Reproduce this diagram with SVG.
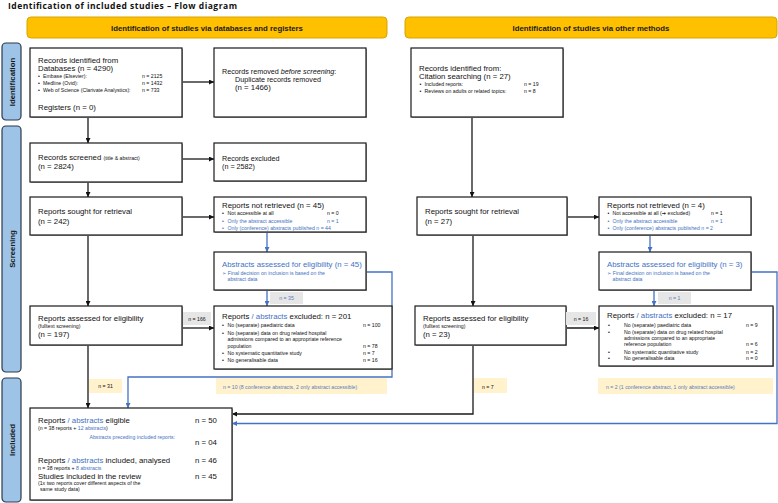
<svg xmlns="http://www.w3.org/2000/svg" width="778" height="503" viewBox="0 0 778 503">
<defs>
<marker id="ak" viewBox="0 0 10 10" refX="10" refY="5" markerWidth="5" markerHeight="5" markerUnits="userSpaceOnUse" orient="auto"><path d="M0,0 L10,5 L0,10 z" fill="#111"/></marker>
<marker id="ab" viewBox="0 0 10 10" refX="10" refY="5" markerWidth="5" markerHeight="5" markerUnits="userSpaceOnUse" orient="auto"><path d="M0,0 L10,5 L0,10 z" fill="#4472C4"/></marker>
</defs>
<style>
.box{fill:#fff;stroke:#1a1a1a;stroke-width:1.2}
.sh{fill:#a0a0a0}
.t{font-family:'Liberation Sans',Arial,'DejaVu Sans',sans-serif;font-size:7.8px;fill:#111}
.s{font-size:5.2px}
.m{font-size:7.2px}
.bl{fill:#4472C4}
.lbl{fill:#5B7DBF}
.ln{fill:none;stroke:#1a1a1a;stroke-width:1.3}
.lb{fill:none;stroke:#4472C4;stroke-width:1.3}
.hdr{fill:#FFC000;stroke:#D9A400;stroke-width:1}
.side{fill:#9DC3E6;stroke:#2b3a4e;stroke-width:1.2}
.ht{font-family:'Liberation Sans',Arial,sans-serif;font-weight:bold;font-size:7.8px;fill:#1a1a1a}
.gl{fill:#E7E6E6}
.yl{fill:#FFF2CC}
</style>

<text x="8" y="8.5" font-family="'Open Sans','Liberation Sans',sans-serif" font-weight="bold" font-size="8.5px" fill="#111" textLength="229">Identification of included studies – Flow diagram</text>

<g id="header-left"><rect class="hdr" x="27" y="17" width="360" height="21" rx="4"/><text class="ht" x="207" y="30.5" text-anchor="middle">Identification of studies via databases and registers</text></g>
<g id="header-right"><rect class="hdr" x="405" y="17" width="372" height="21" rx="4"/><text class="ht" x="591" y="30.5" text-anchor="middle">Identification of studies via other methods</text></g>

<g id="side-identification"><rect class="side" x="2" y="43" width="19" height="77" rx="4"/><text class="ht" transform="translate(14.5,82) rotate(-90)" text-anchor="middle" font-size="8px">Identification</text></g>
<g id="side-screening"><rect class="side" x="2" y="126" width="19" height="246" rx="4"/><text class="ht" transform="translate(14.5,249) rotate(-90)" text-anchor="middle" font-size="8px">Screening</text></g>
<g id="side-included"><rect class="side" x="2" y="378" width="19" height="124" rx="4"/><text class="ht" transform="translate(14.5,440) rotate(-90)" text-anchor="middle" font-size="8px">Included</text></g>

<g id="connectors">
<path class="ln" d="M88,117 V143" marker-end="url(#ak)"/>
<path class="ln" d="M182,82 H214" marker-end="url(#ak)"/>
<path class="ln" d="M182,159 H214" marker-end="url(#ak)"/>
<path class="ln" d="M88,182 V197" marker-end="url(#ak)"/>
<path class="ln" d="M182,217 H214" marker-end="url(#ak)"/>
<path class="ln" d="M88,235 V306" marker-end="url(#ak)"/>
<path class="ln" d="M182,328 H214" marker-end="url(#ak)"/>
<path class="ln" d="M88,345 V408" marker-end="url(#ak)"/>
<path class="ln" d="M472,117 V197" marker-end="url(#ak)"/>
<path class="ln" d="M567,217 H599" marker-end="url(#ak)"/>
<path class="ln" d="M473,235 V306" marker-end="url(#ak)"/>
<path class="ln" d="M566,328 H599" marker-end="url(#ak)"/>
<path class="ln" d="M473,345 V414 H232" marker-end="url(#ak)"/>
<path class="ln" d="M88,431 V454" marker-end="url(#ak)"/>
<path class="ln" d="M88,441.5 H192" marker-end="url(#ak)"/>
<path class="lb" d="M267,232 V252" marker-end="url(#ab)"/>
<path class="lb" d="M267,290 V306" marker-end="url(#ab)"/>
<path class="lb" d="M366,272 H392 V377 H128 V408" marker-end="url(#ab)"/>
<path class="lb" d="M650,235 V252" marker-end="url(#ab)"/>
<path class="lb" d="M654,290 V306" marker-end="url(#ab)"/>
<path class="lb" d="M751,272 H777 V423.5 H232" marker-end="url(#ab)"/>
</g>

<g id="records-identified">
<rect class="sh" x="31" y="49" width="152" height="69"/><rect class="box" x="30" y="48" width="152" height="69"/>
<text class="t" x="38" y="62.5">Records identified from</text>
<text class="t" x="38" y="71">Databases (n = 4290)</text>
<text class="t s" x="38" y="77.7">•</text><text class="t s" x="43" y="77.7">Embase (Elsevier):</text><text class="t s" x="142" y="77.7">n = 2125</text>
<text class="t s" x="38" y="84.7">•</text><text class="t s" x="43" y="84.7">Medline (Ovid):</text><text class="t s" x="142" y="84.7">n = 1432</text>
<text class="t s" x="38" y="91.7">•</text><text class="t s" x="43" y="91.7">Web of Science (Clarivate Analystics):</text><text class="t s" x="142" y="91.7">n = 733</text>
<text class="t" x="38" y="110">Registers (n = 0)</text>
</g>

<g id="records-removed">
<rect class="sh" x="215" y="49" width="152" height="69"/><rect class="box" x="214" y="48" width="152" height="69"/>
<text class="t m" x="222" y="73.5">Records removed <tspan font-style="italic">before screening</tspan>:</text>
<text class="t m" x="235" y="81.5">Duplicate records removed</text>
<text class="t" x="235" y="90" font-size="6.6px">(n = 1466)</text>
</g>

<g id="records-screened">
<rect class="sh" x="31" y="144" width="152" height="39"/><rect class="box" x="30" y="143" width="152" height="39"/>
<text class="t" x="38" y="159.5">Records screened <tspan font-size="5.2px">(title &amp; abstract)</tspan></text>
<text class="t" x="38" y="168.5">(n = 2824)</text>
</g>

<g id="records-excluded">
<rect class="sh" x="215" y="144" width="152" height="38"/><rect class="box" x="214" y="143" width="152" height="38"/>
<text class="t m" x="222" y="160.5">Records excluded</text>
<text class="t m" x="222" y="168.5">(n = 2582)</text>
</g>

<g id="reports-sought">
<rect class="sh" x="31" y="198" width="152" height="38"/><rect class="box" x="30" y="197" width="152" height="38"/>
<text class="t" x="38" y="214">Reports sought for retrieval</text>
<text class="t" x="38" y="224">(n = 242)</text>
</g>

<g id="reports-not-retrieved">
<rect class="sh" x="215" y="198" width="152" height="35"/><rect class="box" x="214" y="197" width="152" height="35"/>
<text class="t" x="222" y="207.8">Reports not retrieved (n = 45)</text>
<text class="t s" x="222" y="214.5">•</text><text class="t s" x="227.5" y="214.5">Not accessible at all</text><text class="t s" x="327" y="214.5">n = 0</text>
<text class="t s bl" x="222" y="222.5">•</text><text class="t s bl" x="227.5" y="222.5">Only the abstract accessible</text><text class="t s bl" x="327" y="222.5">n = 1</text>
<text class="t s bl" x="222" y="230">•</text><text class="t s bl" x="227.5" y="230">Only (conference) abstracts published n = 44</text>
</g>

<g id="abstracts-assessed">
<rect class="sh" x="215" y="253" width="152" height="38"/><rect class="box" x="214" y="252" width="152" height="38"/>
<text class="t bl" x="222" y="267">Abstracts assessed for eligibility (n = 45)</text>
<text class="t s bl" x="222" y="274.5">➢ Final decision on inclusion is based on the</text>
<text class="t s bl" x="227.5" y="281">abstract data</text>
</g>

<g id="label-n35"><rect class="gl" x="270" y="292" width="33" height="12"/><text class="t s lbl" x="286.5" y="299.8" text-anchor="middle">n = 35</text></g>

<g id="reports-assessed">
<rect class="sh" x="31" y="307" width="152" height="39"/><rect class="box" x="30" y="306" width="152" height="39"/>
<text class="t" x="38" y="321">Reports assessed for eligibility</text>
<text class="t s" x="38" y="327.5">(fulltext screening)</text>
<text class="t" x="38" y="337">(n = 197)</text>
</g>

<g id="label-n166"><rect class="gl" x="183" y="312" width="28" height="13"/><text class="t s" x="197" y="320.5" text-anchor="middle" fill="#333">n = 166</text></g>

<g id="reports-excluded">
<rect class="sh" x="215" y="307" width="178" height="63"/><rect class="box" x="214" y="306" width="178" height="63"/>
<text class="t" x="222" y="318.5">Reports <tspan class="bl">/ abstracts</tspan> excluded: n = 201</text>
<text class="t s" x="222" y="327">•</text><text class="t s" x="227.5" y="327">No (separate) paediatric data</text><text class="t s" x="363" y="327">n = 100</text>
<text class="t s" x="222" y="334.5">•</text><text class="t s" x="227.5" y="334.5">No (separate) data on drug related hospital</text>
<text class="t s" x="227.5" y="341">admissions compared to an appropriate reference</text>
<text class="t s" x="227.5" y="347.5">population</text><text class="t s" x="363" y="347.5">n = 78</text>
<text class="t s" x="222" y="354.5">•</text><text class="t s" x="227.5" y="354.5">No systematic quantitative study</text><text class="t s" x="363" y="354.5">n = 7</text>
<text class="t s" x="222" y="361.5">•</text><text class="t s" x="227.5" y="361.5">No generalisable data</text><text class="t s" x="363" y="361.5">n = 16</text>
</g>

<g id="label-n31"><rect class="yl" x="89" y="379" width="33" height="14"/><text class="t s" x="105.5" y="388" text-anchor="middle" fill="#333">n = 31</text></g>
<g id="label-n10"><rect class="yl" x="216" y="378" width="171" height="16"/><text class="t s lbl" x="223" y="388.8">n = 10 (8 conference abstracts, 2 only abstract accessible)</text></g>

<g id="reports-eligible">
<rect class="sh" x="31" y="409" width="202" height="92"/><rect class="box" x="30" y="408" width="202" height="92"/>
<text class="t" x="38" y="423">Reports <tspan class="bl">/ abstracts</tspan> eligible</text><text class="t" x="195" y="423">n = 50</text>
<text class="t s" x="38" y="429.5">(n = 38 reports + <tspan class="bl">12 abstracts</tspan>)</text>
<text class="t s bl" x="89.5" y="439">Abstracts preceding included reports:</text>
<text class="t" x="195" y="444.5">n = 04</text>
<text class="t" x="38" y="463">Reports <tspan class="bl">/ abstracts</tspan> included, analysed</text><text class="t" x="195" y="463">n = 46</text>
<text class="t s" x="38" y="469.5">n = 38 reports + <tspan class="bl">8 abstracts</tspan></text>
<text class="t" x="38" y="478.5">Studies included in the review</text><text class="t" x="195" y="478.5">n = 45</text>
<text class="t s" x="38" y="485">(1x two reports cover different aspects of the</text>
<text class="t s" x="40" y="491">same study data)</text>
</g>

<g id="citation-searching">
<rect class="sh" x="412" y="49" width="152" height="69"/><rect class="box" x="411" y="48" width="152" height="69"/>
<text class="t" x="419" y="70.5">Records identified from:</text>
<text class="t" x="419" y="79">Citation searching (n = 27)</text>
<text class="t s" x="419.5" y="86">•</text><text class="t s" x="424.5" y="86">Included reports:</text><text class="t s" x="524" y="86">n = 19</text>
<text class="t s" x="419.5" y="92.5">•</text><text class="t s" x="424.5" y="92.5">Reviews on adults or related topics:</text><text class="t s" x="524" y="92.5">n = 8</text>
</g>

<g id="reports-sought-other">
<rect class="sh" x="418" y="198" width="150" height="38"/><rect class="box" x="417" y="197" width="150" height="38"/>
<text class="t" x="425" y="214">Reports sought for retrieval</text>
<text class="t" x="425" y="224">(n = 27)</text>
</g>

<g id="reports-not-retrieved-other">
<rect class="sh" x="600" y="198" width="152" height="38"/><rect class="box" x="599" y="197" width="152" height="38"/>
<text class="t" x="607" y="207.8">Reports not retrieved (n = 4)</text>
<text class="t s" x="607.5" y="214.5">•</text><text class="t s" x="612.5" y="214.5">Not accessible at all (<tspan font-family="'DejaVu Sans',sans-serif">➔</tspan> excluded)</text><text class="t s" x="711" y="214.5">n = 1</text>
<text class="t s bl" x="607.5" y="222.5">•</text><text class="t s bl" x="612.5" y="222.5">Only the abstract accessible</text><text class="t s bl" x="711" y="222.5">n = 1</text>
<text class="t s bl" x="607.5" y="230">•</text><text class="t s bl" x="612.5" y="230">Only (conference) abstracts published n = 2</text>
</g>

<g id="abstracts-assessed-other">
<rect class="sh" x="600" y="253" width="152" height="38"/><rect class="box" x="599" y="252" width="152" height="38"/>
<text class="t bl" x="607" y="267">Abstracts assessed for eligibility (n = 3)</text>
<text class="t s bl" x="607" y="274.5">➢ Final decision on inclusion is based on the</text>
<text class="t s bl" x="612.5" y="281">abstract data</text>
</g>

<g id="label-n1"><rect class="gl" x="658" y="292" width="33" height="12"/><text class="t s lbl" x="674.5" y="299.8" text-anchor="middle">n = 1</text></g>

<g id="reports-assessed-other">
<rect class="sh" x="416" y="307" width="151" height="39"/><rect class="box" x="415" y="306" width="151" height="39"/>
<text class="t" x="423" y="321">Reports assessed for eligibility</text>
<text class="t s" x="423" y="327.5">(fulltext screening)</text>
<text class="t" x="423" y="337" font-size="8.2px">(n = 23)</text>
</g>

<g id="label-n16"><rect class="gl" x="566" y="312" width="30" height="13"/><text class="t s" x="581" y="320.5" text-anchor="middle" fill="#333">n = 16</text></g>

<g id="reports-excluded-other">
<rect class="sh" x="600" y="307" width="174" height="60"/><rect class="box" x="599" y="306" width="174" height="60"/>
<text class="t" x="607" y="318">Reports <tspan class="bl">/ abstracts</tspan> excluded: n = 17</text>
<text class="t s" x="608" y="327">•</text><text class="t s" x="624" y="327">No (separate) paediatric data</text><text class="t s" x="746" y="327">n = 9</text>
<text class="t s" x="608" y="333.5">•</text><text class="t s" x="624" y="333.5">No (separate) data on drug related hospital</text>
<text class="t s" x="624" y="340">admissions compared to an appropriate</text>
<text class="t s" x="624" y="346">reference population</text><text class="t s" x="746" y="346">n = 6</text>
<text class="t s" x="608" y="353.5">•</text><text class="t s" x="624" y="353.5">No systematic quantitative study</text><text class="t s" x="746" y="353.5">n = 2</text>
<text class="t s" x="608" y="360">•</text><text class="t s" x="624" y="360">No generalisable data</text><text class="t s" x="746" y="360">n = 0</text>
</g>

<g id="label-n7"><rect class="yl" x="474" y="378" width="33" height="15"/><text class="t s" x="482" y="388.5" fill="#333">n = 7</text></g>
<g id="label-n2"><rect class="yl" x="598" y="378" width="175" height="16"/><text class="t s lbl" x="606" y="388.8">n = 2 (1 conference abstract, 1 only abstract accessible)</text></g>
</svg>
